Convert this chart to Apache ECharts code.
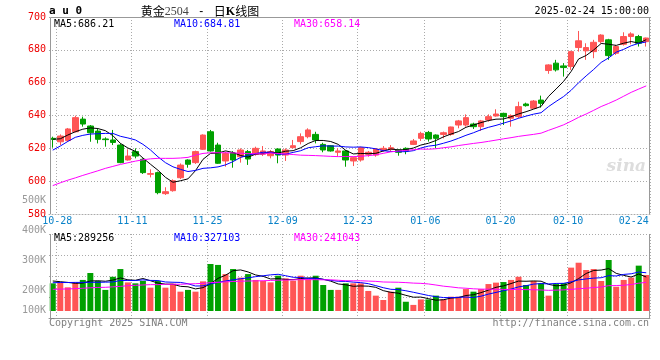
<!DOCTYPE html>
<html><head><meta charset="utf-8">
<script src="https://cdn.jsdelivr.net/npm/echarts@6/dist/echarts.min.js"></script>
<style>html,body{margin:0;padding:0;background:#fff}#c{width:660px;height:360px}</style>
</head><body><div id="c"></div>
<script>
const dates = ['10-25','10-28','10-29','10-30','10-31',
'11-01','11-04','11-05','11-06','11-07','11-08','11-11','11-12','11-13','11-14','11-15','11-18','11-19','11-20','11-21','11-22','11-25','11-26','11-27','11-28','11-29',
'12-02','12-03','12-04','12-05','12-06','12-09','12-10','12-11','12-12','12-13','12-16','12-17','12-18','12-19','12-20','12-23','12-24','12-25','12-26','12-27','12-30','12-31',
'01-02','01-03','01-06','01-07','01-08','01-09','01-10','01-13','01-14','01-15','01-16','01-17','01-20','01-21','01-22','01-23','01-24','01-27',
'02-05','02-06','02-07','02-10','02-11','02-12','02-13','02-14','02-17','02-18','02-19','02-20','02-21','02-24'];

const open = [626.1,624.0,624.7,630.1,637.8,633.6,630.5,625.7,625.1,622.0,
612.9,618.0,613.3,604.2,605.2,592.4,594.2,602.1,612.9,611.3,
619.4,630.1,622.0,612.3,617.2,614.9,618.0,616.4,616.4,615.5,
619.6,615.9,620.4,624.1,627.1,628.5,622.4,621.6,617.6,618.4,
612.3,612.9,616.4,615.9,619.0,619.4,619.0,620.0,622.4,626.1,
629.7,628.1,628.5,628.5,634.2,634.2,634.8,633.2,637.3,639.7,
641.3,638.3,639.3,647.0,644.4,649.4,667.4,671.9,670.2,669.8,
681.4,679.4,678.9,685.0,686.1,677.9,683.4,688.1,688.1,685.0];
const close = [625.5,627.5,631.8,638.7,634.8,629.5,625.5,625.3,623.6,611.3,
615.3,615.3,605.2,604.6,593.0,593.6,600.3,609.8,610.3,618.0,
628.1,618.4,610.9,616.9,612.9,619.0,613.5,620.0,618.4,618.0,
615.9,619.0,621.6,627.1,631.2,625.1,619.0,618.4,618.4,612.9,
614.3,620.4,617.6,619.6,620.0,620.4,617.6,618.4,624.5,629.1,
625.7,626.1,629.5,633.0,636.7,638.7,633.2,636.7,639.3,640.9,
639.3,639.9,645.4,646.0,648.8,647.4,670.8,667.8,669.2,678.9,
685.5,681.4,684.6,689.0,676.5,682.0,688.1,689.7,684.0,687.2];
const low = [620.4,622.0,623.9,629.7,633.2,624.0,623.0,621.0,622.0,610.9,
612.5,613.9,604.4,602.3,592.0,591.6,593.6,601.3,608.2,610.5,
619.0,618.0,610.5,608.8,608.2,611.3,609.9,615.5,615.3,613.9,
610.9,612.3,620.0,622.4,626.1,623.0,617.6,618.0,614.9,608.8,
609.2,611.9,614.9,614.9,618.0,618.0,615.5,616.4,622.0,624.5,
624.1,620.0,626.1,627.7,632.2,633.2,631.8,630.6,636.2,639.3,
634.2,633.2,638.3,645.4,644.0,644.8,665.4,666.8,663.7,667.8,
678.9,673.9,674.9,684.0,673.9,676.9,682.6,683.4,682.0,682.0];
const high = [627.1,628.5,632.4,639.9,639.3,634.2,632.2,626.7,631.2,623.0,
619.4,620.0,613.9,607.2,605.8,596.3,601.1,610.8,613.3,618.6,
628.5,631.2,623.4,618.0,618.3,620.0,619.0,621.0,621.4,619.0,
620.0,620.0,625.1,629.1,632.2,630.1,623.4,622.0,620.0,619.0,
614.9,621.0,618.4,620.0,621.4,622.0,619.4,620.6,625.7,630.1,
630.6,628.5,630.2,633.2,637.3,640.7,635.6,637.3,640.7,643.8,
641.7,640.7,648.4,647.8,649.4,652.1,671.2,673.9,671.9,679.4,
691.5,684.0,686.1,689.5,686.7,683.0,690.7,690.7,689.1,687.4];
const volume = [236000,244000,202000,244000,265000,324000,256000,180000,292000,358000,
244000,236000,256000,199000,256000,199000,233000,165000,180000,165000,
253000,401000,393000,315000,358000,285000,315000,265000,256000,244000,
301000,279000,259000,301000,270000,301000,222000,180000,180000,236000,
236000,236000,171000,131000,94000,165000,199000,79000,52000,99000,
99000,131000,99000,122000,122000,187000,165000,187000,230000,242000,
247000,265000,292000,222000,256000,236000,131000,230000,239000,370000,
412000,350000,358000,256000,435000,207000,265000,285000,387000,307000];

// moving-average values before enough history exists
const ma5Head = [625.5,625.8,628.1,630.1];
const ma10Head = [618.9,621.4,624.2,626.7,627.9,628.7,628.9,629.1,629.1];
const ma30Head = [597.3,599.0,600.6,602.0,603.5,604.9,606.3,607.8,609.0,610.2,611.2,612.2,613.0,613.6,613.9,613.9,613.9,614.1,614.5,615.9,616.9,617.3,617.3,617.3,617.2,617.0,616.8,616.7,616.6];
const vma5Head = [256000,250000,244000,236000];
const vma10Head = [241000,243000,243000,244000,244000,245000,245000,246000,248000];
const vma30Head = [185000,187000,188000,191000,194000,198000,201000,202000,206000,210000,216000,219000,222000,225000,225000,228000,228000,228000,231000,233000,236000,242000,245000,248000,252000,254000,256000,257000,258000];

const xTickLabels = ['10-28','11-11','11-25','12-09','12-23','01-06','01-20','02-10','02-24'];
const xGridDates = ['10-28','11-11','11-25','12-09','12-23','01-06','01-20','02-10'];
const volTickValues = [132333,200000,300000,400000,500000];
const volTickLabels = ['100K','200K','300K','400K','500K'];
const priceHeader = ['MA5:686.21','MA10:684.81','MA30:658.14'];
const volHeader = ['MA5:289256','MA10:327103','MA30:241043'];
const maColors = ['#000000','#0000ff','#ff00ff'];

function movingAvg(src, n, head) {
  return src.map((v, i) => {
    if (i < n - 1) return head[i];
    let s = 0; for (let k = i - n + 1; k <= i; k++) s += src[k];
    return +(s / n).toFixed(2);
  });
}

const UP = '#ff5555', DOWN = '#00a000';
const MONO = '"DejaVu Sans Mono", monospace';
const tickSet = new Set(xTickLabels), gridSet = new Set(xGridDates);
const lastTick = xTickLabels[xTickLabels.length - 1];
const dotted = {color: '#aaaaaa', type: [1, 2], width: 1};
const L = 49, W = 601;

const chart = echarts.init(document.getElementById('c'));
const candleData = dates.map((d, i) => [open[i], close[i], low[i], high[i]]);
const volData = volume.map((v, i) => ({value: v, itemStyle: {color: close[i] >= open[i] ? UP : DOWN}}));
const lineS = (name, data, x, y, color) => ({type: 'line', name, data, xAxisIndex: x, yAxisIndex: y,
  showSymbol: false, symbol: 'none', silent: true, lineStyle: {color, width: 1}, z: 5});

const txt = (x, y, text, fill, font, align) => ({type: 'text', x, y, z: 100,
  style: {text, fill, font, align: align || 'left', verticalAlign: 'middle'}});
const ln = (x1, y1, x2, y2) => ({type: 'line', z: 50, shape: {x1, y1, x2, y2}, style: {stroke: '#999999', lineWidth: 1}});

chart.setOption({
  animation: false,
  backgroundColor: '#ffffff',
  grid: [
    {left: L, width: W, top: 17, height: 197},
    {left: L, width: W, top: 234, height: 77},
    {left: L, width: W, top: 234, height: 84},
    {left: L, width: W, top: 190, height: 130}
  ],
  xAxis: [
    {type: 'category', gridIndex: 0, data: dates, boundaryGap: true,
     axisLine: {show: true, lineStyle: dotted}, axisTick: {show: false},
     axisLabel: {interval: (i, v) => tickSet.has(v), color: '#0a82c8', fontFamily: MONO, fontSize: 10, margin: 2,
       formatter: v => v === lastTick ? '{e|' + v + '}' : '{n|' + v + '}',
       rich: {n: {padding: [0, 6, 0, 0], color: '#0a82c8', fontFamily: MONO, fontSize: 10},
              e: {padding: [0, 25, 0, 0], color: '#0a82c8', fontFamily: MONO, fontSize: 10}}},
     splitLine: {show: true, interval: (i, v) => gridSet.has(v), lineStyle: dotted}},
    {type: 'category', gridIndex: 1, data: dates, boundaryGap: true, show: false},
    {type: 'category', gridIndex: 2, data: dates, boundaryGap: true,
     axisLine: {show: true, onZero: false, lineStyle: {color: '#999999', width: 1}}, axisTick: {show: false}, axisLabel: {show: false},
     splitLine: {show: true, interval: (i, v) => gridSet.has(v), lineStyle: dotted}},
    {type: 'category', gridIndex: 3, data: dates, show: false}
  ],
  yAxis: [
    {type: 'value', gridIndex: 0, min: 580, max: 700, interval: 20,
     axisLine: {show: false}, axisTick: {show: false},
     axisLabel: {color: '#ee0000', fontFamily: MONO, fontSize: 10, margin: 3, padding: [0, 0, 4, 0]},
     splitLine: {show: true, lineStyle: dotted}},
    {type: 'value', gridIndex: 1, min: 0, max: 657000, show: false, splitLine: {show: false}},
    {type: 'value', gridIndex: 2, min: 0, max: 4, interval: 1,
     axisLine: {show: false}, axisTick: {show: false}, axisLabel: {show: false},
     splitLine: {show: true, lineStyle: dotted}},
    {type: 'value', gridIndex: 3, min: 100000, max: 533333,
     axisLine: {show: false}, axisTick: {show: false}, splitLine: {show: false},
     axisLabel: {customValues: volTickValues, color: '#999999', fontFamily: MONO, fontSize: 10, margin: 3,
       showMinLabel: true, showMaxLabel: true,
       formatter: v => { const k = volTickValues.indexOf(v); return k >= 0 ? volTickLabels[k] : ''; }}}
  ],
  series: [
    {type: 'candlestick', name: 'K', data: candleData, xAxisIndex: 0, yAxisIndex: 0, barWidth: 6, silent: true, z: 3,
     itemStyle: {color: UP, color0: DOWN, borderColor: UP, borderColor0: DOWN, borderWidth: 1}},
    lineS('MA5', movingAvg(close, 5, ma5Head), 0, 0, maColors[0]),
    lineS('MA10', movingAvg(close, 10, ma10Head), 0, 0, maColors[1]),
    lineS('MA30', movingAvg(close, 30, ma30Head), 0, 0, maColors[2]),
    {type: 'bar', name: 'VOL', data: volData, xAxisIndex: 1, yAxisIndex: 1, barWidth: 6, silent: true, z: 3},
    lineS('VMA5', movingAvg(volume, 5, vma5Head), 1, 1, maColors[0]),
    lineS('VMA10', movingAvg(volume, 10, vma10Head), 1, 1, maColors[1]),
    lineS('VMA30', movingAvg(volume, 30, vma30Head), 1, 1, maColors[2])
  ],
  graphic: [
    ln(50.5, 17.5, 650.5, 17.5), ln(50.5, 17.5, 50.5, 214), ln(649.5, 17.5, 649.5, 214),
    ln(50.5, 234, 50.5, 318), ln(649.5, 234, 649.5, 318),
    txt(49, 11.5, 'a u 0', '#000', 'bold 11px ' + MONO),
    {type: 'text', x: 200, y: 11.5, z: 100, style: {
      text: '{a|黄金}{b|2504}{d|-}{a|日}{k|K}{a|线图}', align: 'center', verticalAlign: 'middle',
      rich: {a: {fontFamily: '"Noto Sans CJK SC"', fontSize: 12, fill: '#000'},
             b: {fontFamily: '"Liberation Serif"', fontSize: 12, fill: '#444'},
             d: {fontFamily: '"Liberation Sans"', fontSize: 12, fill: '#000', width: 25, align: 'center'},
             k: {fontFamily: '"Liberation Serif"', fontWeight: 'bold', fontSize: 12, fill: '#000'}}}},
    txt(649, 11.5, '2025-02-24 15:00:00', '#000', '10px ' + MONO, 'right'),
    txt(54, 24, priceHeader[0], maColors[0], '10px ' + MONO),
    txt(174, 24, priceHeader[1], maColors[1], '10px ' + MONO),
    txt(294, 24, priceHeader[2], maColors[2], '10px ' + MONO),
    txt(54, 238.5, volHeader[0], maColors[0], '10px ' + MONO),
    txt(174, 238.5, volHeader[1], maColors[1], '10px ' + MONO),
    txt(294, 238.5, volHeader[2], maColors[2], '10px ' + MONO),
    txt(49, 323, 'Copyright 2025 SINA.COM', '#808080', '10px ' + MONO),
    txt(649, 323, 'http://finance.sina.com.cn', '#808080', '10px ' + MONO, 'right'),
    txt(646, 167, 'sina', '#dddddd', 'italic bold 17px "DejaVu Serif"', 'right')
  ]
});
</script></body></html>
